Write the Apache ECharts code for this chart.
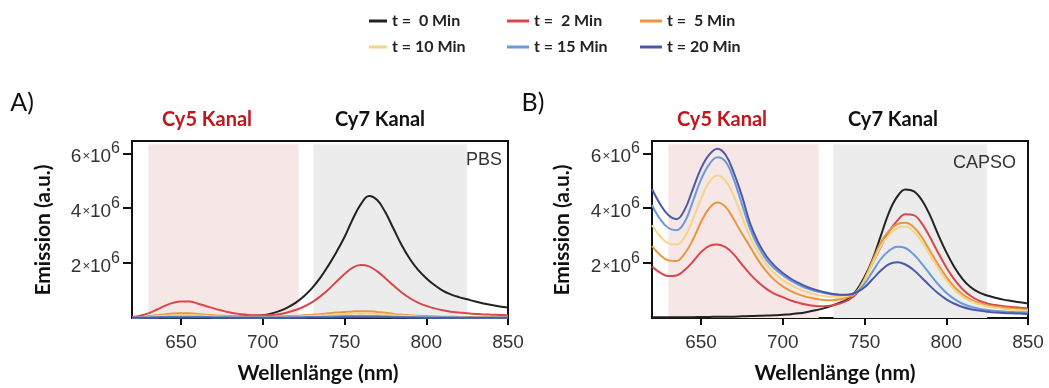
<!DOCTYPE html>
<html>
<head>
<meta charset="utf-8">
<script src="https://cdn.jsdelivr.net/npm/echarts@6/dist/echarts.min.js"></script>
<style>
html,body{margin:0;padding:0;background:#fff;}
#chart{width:1049px;height:388px;}
</style>
</head>
<body>
<div id="chart"></div>
<script>
// Wavelengths (nm)
const wavelengths = [620,625,630,635,640,645,650,655,660,665,670,675,680,685,690,695,700,705,710,715,720,725,730,735,740,745,750,755,760,765,770,775,780,785,790,795,800,805,810,815,820,825,830,835,840,845,850];

// Series names
const seriesNames = ['t =  0 Min','t =  2 Min','t =  5 Min','t = 10 Min','t = 15 Min','t = 20 Min'];
const seriesColors = ['#222222','#d9474a','#e8973c','#f3d488','#6b9bd6','#4a5aa8'];

// Panel A (PBS), emission in units of 10^6 a.u.
const pbs_t0  = [.02,.02,.02,.02,.02,.02,.03,.03,.03,.03,.03,.03,.04,.05,.06,.08,.10,.16,.25,.38,.55,.78,1.08,1.45,1.90,2.40,2.95,3.60,4.15,4.45,4.30,3.85,3.25,2.65,2.15,1.75,1.45,1.20,1.00,.86,.76,.68,.60,.53,.47,.42,.38];
const pbs_t2  = [.03,.08,.17,.30,.44,.55,.60,.60,.53,.44,.35,.27,.20,.15,.12,.10,.10,.11,.14,.20,.29,.41,.57,.78,1.03,1.32,1.60,1.84,1.93,1.88,1.70,1.45,1.18,.93,.72,.56,.44,.35,.28,.23,.20,.17,.15,.13,.12,.11,.10];
const pbs_t5  = [.01,.03,.06,.10,.13,.16,.17,.17,.15,.12,.10,.08,.07,.06,.05,.05,.05,.05,.06,.07,.08,.10,.12,.14,.17,.20,.22,.24,.25,.25,.22,.19,.15,.12,.10,.08,.07,.06,.05,.045,.04,.035,.03,.03,.03,.025,.02];
const pbs_t10 = [.01,.02,.04,.06,.08,.10,.11,.11,.10,.08,.06,.05,.04,.04,.03,.03,.03,.03,.04,.04,.05,.06,.08,.09,.11,.13,.15,.16,.17,.16,.15,.13,.10,.08,.07,.05,.04,.04,.03,.03,.03,.02,.02,.02,.02,.02,.02];
const pbs_t15 = [.005,.01,.02,.03,.04,.05,.05,.05,.05,.04,.03,.03,.02,.02,.02,.02,.02,.02,.02,.02,.03,.03,.04,.04,.05,.06,.07,.07,.08,.07,.07,.06,.05,.04,.03,.03,.02,.02,.02,.02,.01,.01,.01,.01,.01,.01,.01];
const pbs_t20 = [.01,.01,.01,.01,.02,.02,.02,.02,.02,.02,.01,.01,.01,.01,.01,.01,.01,.01,.01,.01,.01,.01,.02,.02,.02,.02,.03,.03,.03,.03,.03,.03,.02,.02,.02,.01,.01,.01,.01,.01,.01,.01,.01,.01,.01,.01,.01];

// Panel B (CAPSO), emission in units of 10^6 a.u.
const capso_t0  = [.03,.03,.03,.03,.03,.03,.04,.04,.05,.05,.05,.06,.07,.08,.09,.10,.12,.14,.17,.22,.28,.35,.45,.56,.70,1.00,1.50,2.15,3.00,3.85,4.42,4.68,4.62,4.30,3.75,3.05,2.40,1.85,1.42,1.12,.93,.82,.74,.67,.62,.57,.53];
const capso_t2  = [1.88,1.65,1.53,1.55,1.75,2.05,2.40,2.63,2.68,2.58,2.32,1.95,1.60,1.30,1.06,.88,.76,.64,.55,.48,.44,.43,.46,.53,.65,.88,1.42,2.00,2.60,3.15,3.55,3.78,3.75,3.45,2.95,2.38,1.85,1.40,1.05,.80,.63,.53,.47,.43,.40,.37,.35];
const capso_t5  = [2.62,2.30,2.10,2.08,2.35,2.85,3.50,4.00,4.21,4.05,3.60,3.08,2.60,2.10,1.70,1.38,1.15,.98,.85,.76,.70,.66,.65,.68,.76,.92,1.42,2.10,2.75,3.18,3.42,3.47,3.32,2.95,2.45,1.95,1.50,1.13,.86,.67,.55,.47,.42,.38,.35,.32,.30];
const capso_t10 = [3.38,2.98,2.72,2.68,2.95,3.60,4.35,4.95,5.19,5.00,4.45,3.70,2.95,2.40,1.95,1.62,1.38,1.20,1.05,.94,.86,.80,.77,.77,.82,.95,1.38,2.00,2.62,3.03,3.28,3.33,3.15,2.78,2.30,1.82,1.38,1.03,.78,.61,.50,.42,.37,.33,.30,.28,.26];
const capso_t15 = [4.12,3.60,3.28,3.20,3.50,4.25,5.05,5.60,5.86,5.70,5.05,4.15,3.25,2.60,2.12,1.80,1.56,1.36,1.20,1.07,.98,.91,.86,.84,.85,.95,1.25,1.70,2.15,2.45,2.60,2.55,2.32,1.98,1.60,1.23,.92,.69,.52,.41,.34,.29,.26,.24,.22,.21,.20];
const capso_t20 = [4.70,4.15,3.75,3.60,3.95,4.70,5.45,5.95,6.17,5.95,5.30,4.45,3.45,2.75,2.25,1.90,1.64,1.43,1.27,1.13,1.03,.95,.88,.85,.85,.93,1.12,1.42,1.73,1.96,2.03,1.95,1.75,1.47,1.17,.90,.68,.52,.40,.32,.27,.23,.20,.18,.17,.16,.15];

// Detection channel bands (nm)
const cy5Band = [630, 722];
const cy7Band = [731, 825];
const xTicks = [650, 700, 750, 800, 850];
const yTicks = [2, 4, 6];

const panelData = [
  [pbs_t0, pbs_t2, pbs_t5, pbs_t10, pbs_t15, pbs_t20],
  [capso_t0, capso_t2, capso_t5, capso_t10, capso_t15, capso_t20]
];

const chart = echarts.init(document.getElementById('chart'), null, {renderer: 'canvas'});

const grids = [
  {left: 132, top: 141, width: 376, height: 177},
  {left: 652, top: 141, width: 376, height: 177}
];

function xAxisFor(i) {
  return {
    type: 'value', gridIndex: i, min: 620, max: 850,
    axisLine: {show: true, onZero: false, lineStyle: {color: '#111', width: 2}},
    axisTick: {show: true, customValues: xTicks, length: 7, lineStyle: {color: '#111', width: 2}},
    axisLabel: {show: true, customValues: xTicks, margin: 15, fontSize: 19, color: '#333', fontFamily: 'Liberation Sans'},
    splitLine: {show: false}
  };
}
function yAxisFor(i) {
  return {
    type: 'value', gridIndex: i, min: 0, max: 6.45,
    axisLine: {show: true, lineStyle: {color: '#111', width: 2}},
    axisTick: {show: true, customValues: yTicks, length: 9, lineStyle: {color: '#111', width: 2}},
    axisLabel: {
      show: true, customValues: yTicks, margin: 12,
      formatter: v => `{n|${v}}{x|×}{n|10}{s|6}`,
      rich: {
        n: {fontSize: 19, color: '#333', fontFamily: 'Liberation Sans', verticalAlign: 'bottom', lineHeight: 26},
        x: {fontSize: 13, color: '#333', fontFamily: 'Liberation Sans', verticalAlign: 'bottom', lineHeight: 26, padding: [0, 0, 3, 1]},
        s: {fontSize: 16, color: '#333', fontFamily: 'Liberation Sans', verticalAlign: 'top', lineHeight: 26}
      }
    },
    splitLine: {show: false}
  };
}

const series = [];
for (let p = 0; p < 2; p++) {
  // background bands
  series.push({
    type: 'line', xAxisIndex: p, yAxisIndex: p, data: [], silent: true, z: 1,
    markArea: {
      silent: true,
      data: [
        [{xAxis: cy5Band[0], yAxis: 0, itemStyle: {color: '#f6e6e6'}}, {xAxis: cy5Band[1], yAxis: 6.33}],
        [{xAxis: cy7Band[0], yAxis: 0, itemStyle: {color: '#ececec'}}, {xAxis: cy7Band[1], yAxis: 6.33}]
      ]
    }
  });
  panelData[p].forEach((arr, i) => {
    series.push({
      name: seriesNames[i], type: 'line', xAxisIndex: p, yAxisIndex: p, z: 3,
      data: wavelengths.map((w, k) => [w, arr[k]]),
      smooth: 0.4, showSymbol: false, symbol: 'none',
      lineStyle: {width: 2, color: seriesColors[i]},
      itemStyle: {color: seriesColors[i]}
    });
  });
}

const legendPos = [
  {left: 364, top: 8, w: 18}, {left: 502, top: 8, w: 22}, {left: 635, top: 8, w: 22},
  {left: 364, top: 34, w: 18}, {left: 502, top: 34, w: 22}, {left: 635, top: 34, w: 22}
];
const legends = seriesNames.map((nm, i) => ({
  data: [nm], left: legendPos[i].left, top: legendPos[i].top,
  icon: 'rect', itemWidth: legendPos[i].w, itemHeight: 3, itemGap: 5,
  selectedMode: false,
  textStyle: {fontFamily: 'Lato', fontWeight: 'bold', fontSize: 16, color: '#222', padding: [0, 0, 0, 0]}
}));

const hdr = {fontFamily: 'Lato', fontWeight: 'bold', fontSize: 20};
const ttl = {fontFamily: 'Lato', fontWeight: 'bold', fontSize: 21};
function txt(x, y, text, style, rot) {
  return {type: 'text', x: x, y: y, z: 100, rotation: rot || 0,
    style: Object.assign({text: text, align: 'center', verticalAlign: 'middle', fill: '#111'}, style)};
}

const graphics = [
  txt(22, 103, 'A)', {fontFamily: 'Lato', fontSize: 25, fill: '#111'}),
  txt(533, 103, 'B)', {fontFamily: 'Lato', fontSize: 25, fill: '#111'}),
  txt(207, 120, 'Cy5 Kanal', Object.assign({fill: '#c0161e'}, hdr)),
  txt(380, 120, 'Cy7 Kanal', Object.assign({fill: '#111'}, hdr)),
  txt(722, 120, 'Cy5 Kanal', Object.assign({fill: '#c0161e'}, hdr)),
  txt(893, 120, 'Cy7 Kanal', Object.assign({fill: '#111'}, hdr)),
  txt(43, 230, 'Emission (a.u.)', Object.assign({}, ttl), Math.PI / 2),
  txt(562, 230, 'Emission (a.u.)', Object.assign({}, ttl), Math.PI / 2),
  txt(318, 373, 'Wellenlänge (nm)', Object.assign({}, ttl)),
  txt(835, 373, 'Wellenlänge (nm)', Object.assign({}, ttl)),
  txt(502, 160, 'PBS', {fontFamily: 'Liberation Sans', fontSize: 18, fill: '#333', align: 'right'}),
  txt(1016, 163, 'CAPSO', {fontFamily: 'Liberation Sans', fontSize: 18, fill: '#333', align: 'right'})
];

chart.setOption({
  animation: false,
  backgroundColor: '#fff',
  grid: grids.map(g => Object.assign({show: true, borderColor: '#111', borderWidth: 2, backgroundColor: 'transparent'}, g)),
  xAxis: [xAxisFor(0), xAxisFor(1)],
  yAxis: [yAxisFor(0), yAxisFor(1)],
  legend: legends,
  series: series,
  graphic: graphics
});
</script>
</body>
</html>
